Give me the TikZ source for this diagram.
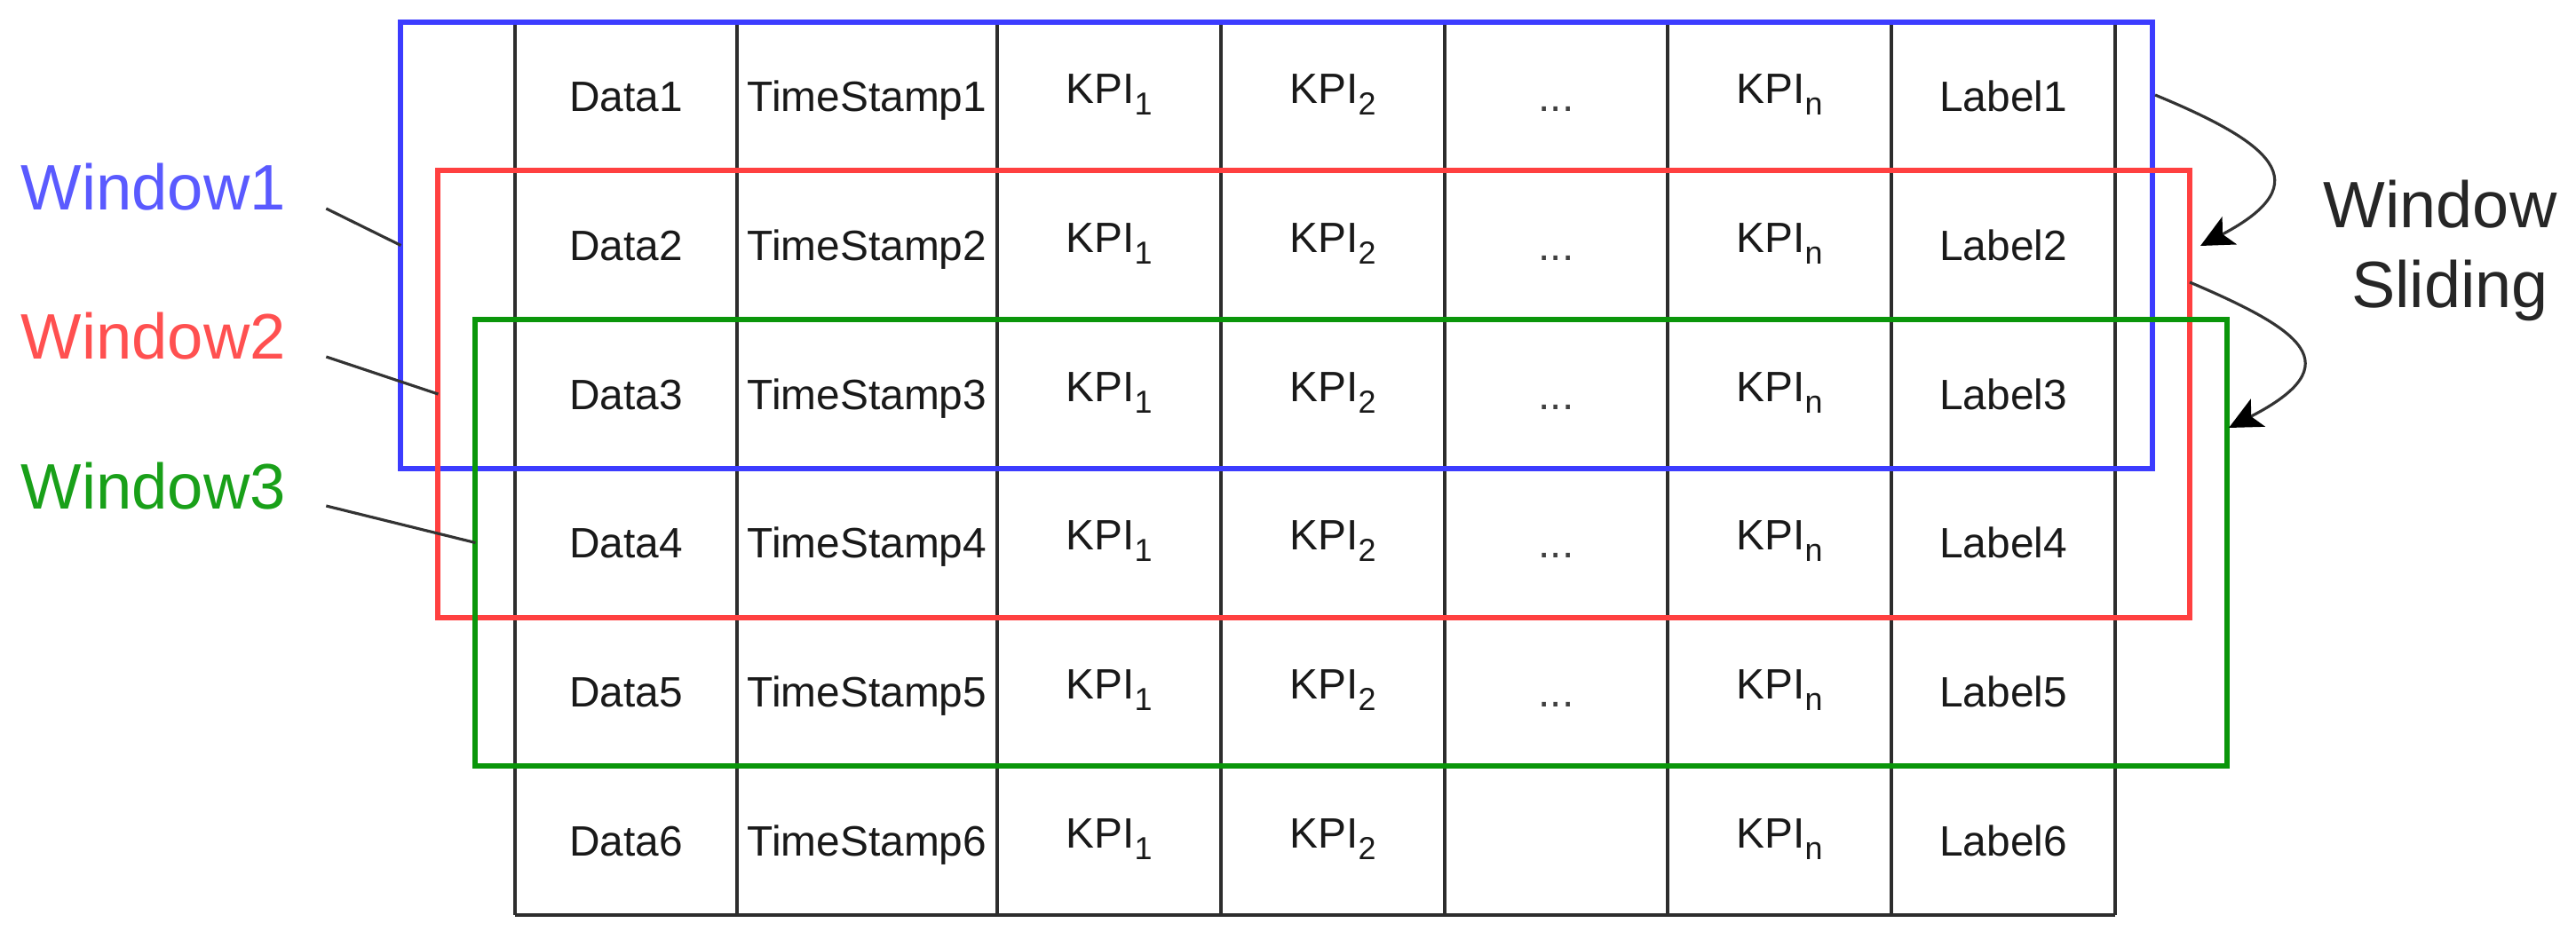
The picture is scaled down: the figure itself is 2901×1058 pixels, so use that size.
\documentclass[tikz,border=0pt]{standalone}
\usepackage{fontspec}
\setmainfont{Liberation Sans}
\usetikzlibrary{arrows.meta,calc}
\definecolor{wblue}{RGB}{60,60,255}
\definecolor{wred}{RGB}{255,64,64}
\definecolor{wgreen}{RGB}{10,150,10}
\definecolor{tblue}{RGB}{90,90,255}
\definecolor{tred}{RGB}{255,80,80}
\definecolor{tgreen}{RGB}{25,160,25}
\definecolor{gridc}{RGB}{45,45,45}
\newcommand\kpisub[1]{\raisebox{-0.27em}{\fontsize{10.2}{12}\selectfont #1}}
\tikzset{
  cell/.style={inner sep=0pt, text height=9.74pt, text depth=0pt, font=\fontsize{13.6}{16}\selectfont, text=black!90},
  kpi/.style={yshift=2.6pt},
  gridline/.style={draw=gridc, line width=1.1pt},
  winbox/.style={draw=#1, line width=1.7pt, inner sep=0pt, outer sep=0pt, minimum width=19.71cm},
  winlabel/.style={inner sep=0pt, anchor=base west, font=\fontsize{20.6}{24}\selectfont, text=#1},
  leader/.style={draw=black!80, line width=0.9pt},
  slidetext/.style={inner sep=0pt, anchor=base, font=\fontsize{21}{25}\selectfont, text=black!85},
  slidearrow/.style={draw=black!80, line width=0.9pt, -{Stealth[length=10.5pt,width=10pt,inset=2.5pt,color=black]}}
}
\begin{document}
\begin{tikzpicture}[x=0.01cm, y=-0.01cm]
\useasboundingbox (0,0) rectangle (2901,1058);
% table grid
\foreach \x in {580,830,1123,1375,1627,1878,2130,2382}
  \draw[gridline] (\x,25) -- (\x,1031);
\draw[gridline] (580,25) -- (2382,25);
\draw[gridline] (580,1031) -- (2382,1031);
% cells
\foreach \r in {1,...,6} {
  \pgfmathsetmacro\yc{25+167.67*(\r-0.5)}
  \node[cell] (d\r) at (705,\yc) {Data\r};
  \node[cell] (t\r) at (976.5,\yc) {TimeStamp\r};
  \node[cell,kpi] (ka\r) at (1249,\yc) {KPI\kpisub{1}};
  \node[cell,kpi] (kb\r) at (1501,\yc) {KPI\kpisub{2}};
  \node[cell,kpi] (kn\r) at (2004,\yc) {KPI\kpisub{n}};
  \node[cell] (l\r) at (2256,\yc) {Label\r};
}
\foreach \r in {1,...,5} {
  \pgfmathsetmacro\yc{25+167.67*(\r-0.5)}
  \node[cell, text=black!75] (e\r) at (1752.5,\yc) {...};
}
% windows
\node[winbox=wblue, minimum height=5.03cm] (w1) at (1437.5,276.5) {};
\node[winbox=wred, minimum height=5.04cm] (w2) at (1479.5,444) {};
\node[winbox=wgreen, minimum height=5.03cm] (w3) at (1521.5,611.5) {};
% window labels
\node[winlabel=tblue] (lab1) at (23,237) {Window1};
\node[winlabel=tred] (lab2) at (23,405) {Window2};
\node[winlabel=tgreen] (lab3) at (23,573) {Window3};
\coordinate (s1) at ($(lab1.base east)+(45,-2)$);
\coordinate (s2) at ($(lab2.base east)+(45,-3)$);
\coordinate (s3) at ($(lab3.base east)+(45,-3)$);
\draw[leader] (s1) -- (w1.west);
\draw[leader] (s2) -- (w2.west);
\draw[leader] (s3) -- (w3.west);
% sliding
\node[slidetext] (ws1) at (2748,257) {Window};
\node[slidetext] (ws2) at (2759,347) {Sliding};
\coordinate (a1s) at (2427,107);
\coordinate (a1e) at (2478,277);
\coordinate (a2s) at (2466,318);
\coordinate (a2e) at (2510,482);
\draw[slidearrow] (a1s) .. controls (2555,160) and (2615,205) .. (a1e);
\draw[slidearrow] (a2s) .. controls (2590,371) and (2650,410) .. (a2e);
\end{tikzpicture}
\end{document}
